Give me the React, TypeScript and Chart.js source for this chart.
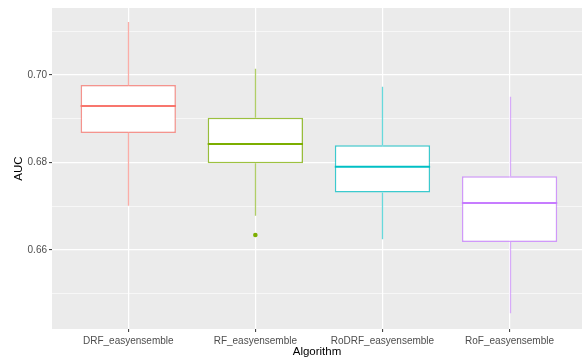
import React, { useEffect, useRef } from "react";
import { Chart, registerables } from "chart.js";
Chart.register(...registerables);

const categories = ["DRF_easyensemble", "RF_easyensemble", "RoDRF_easyensemble", "RoF_easyensemble"];
const whiskerLow = [0.6701, 0.6678, 0.6624, 0.6455];
const q1 = [0.6867, 0.6798, 0.6731, 0.6618];
const median = [0.6929, 0.6842, 0.679, 0.6707];
const q3 = [0.6977, 0.6902, 0.6839, 0.6768];
const whiskerHigh = [0.7121, 0.7014, 0.6973, 0.695];
const outlierCategory = [2];
const outlierValue = [0.6634];
const yTicks = [0.65, 0.66, 0.67, 0.68, 0.69, 0.7, 0.71];
const colors = ["#F8766D", "#7CAE00", "#00BFC4", "#C77CFF"];

const FONT = "'Liberation Sans', Arial, sans-serif";

function alpha(hex: string, a: number) {
  const r = parseInt(hex.slice(1, 3), 16);
  const g = parseInt(hex.slice(3, 5), 16);
  const b = parseInt(hex.slice(5, 7), 16);
  return `rgba(${r},${g},${b},${a})`;
}

const isMajor = (v: number) => Math.round(v * 100) % 2 === 0;

const boxPlugin = {
  id: "boxExtras",
  beforeDraw(chart: any) {
    const { ctx, chartArea } = chart;
    ctx.save();
    ctx.fillStyle = "#EBEBEB";
    ctx.fillRect(chartArea.left, chartArea.top, chartArea.right - chartArea.left, chartArea.bottom - chartArea.top);
    ctx.restore();
  },
  beforeDatasetsDraw(chart: any) {
    const { ctx } = chart;
    const xs = chart.scales.x;
    const ys = chart.scales.y;
    ctx.save();
    ctx.lineWidth = 1.3;
    categories.forEach((_, i) => {
      const x = Math.round(xs.getPixelForValue(i + 1)) + 0.5;
      ctx.strokeStyle = alpha(colors[i], 0.6);
      ctx.beginPath();
      ctx.moveTo(x, ys.getPixelForValue(whiskerHigh[i]));
      ctx.lineTo(x, ys.getPixelForValue(q3[i]));
      ctx.moveTo(x, ys.getPixelForValue(q1[i]));
      ctx.lineTo(x, ys.getPixelForValue(whiskerLow[i]));
      ctx.stroke();
    });
    ctx.restore();
  },
  afterDatasetsDraw(chart: any) {
    const { ctx } = chart;
    const xs = chart.scales.x;
    const ys = chart.scales.y;
    const meta = chart.getDatasetMeta(0);
    ctx.save();
    ctx.lineWidth = 2;
    categories.forEach((_, i) => {
      const el: any = meta.data[i];
      const half = el.width / 2;
      const x = el.x;
      const y = ys.getPixelForValue(median[i]);
      ctx.strokeStyle = colors[i];
      ctx.beginPath();
      ctx.moveTo(x - half, y);
      ctx.lineTo(x + half, y);
      ctx.stroke();
    });
    ctx.restore();
  },
};

export default function App() {
  const ref = useRef<HTMLCanvasElement>(null);
  useEffect(() => {
    document.body.style.margin = "0";
    const chart = new Chart(ref.current!, {
      type: "bar",
      data: {
        datasets: [
          {
            type: "bar",
            data: categories.map((_, i) => ({ x: i + 1, y: [q1[i], q3[i]] })) as any,
            backgroundColor: "#FFFFFF",
            borderColor: colors.map((c) => alpha(c, 0.75)),
            borderWidth: 1.5,
            borderSkipped: false,
            barPercentage: 0.75,
            categoryPercentage: 1,
          },
          {
            type: "scatter",
            data: outlierCategory.map((c, k) => ({ x: c, y: outlierValue[k] })),
            backgroundColor: outlierCategory.map((c) => colors[c - 1]),
            borderColor: outlierCategory.map((c) => colors[c - 1]),
            pointRadius: 2.3,
            borderWidth: 0,
          } as any,
        ],
      },
      options: {
        responsive: false,
        animation: false,
        layout: { padding: { top: 8, left: 0, right: 0, bottom: 0 } },
        plugins: { legend: { display: false }, tooltip: { enabled: false } },
        scales: {
          x: {
            type: "linear",
            offset: false,
            min: 0.4,
            max: 4.57,
            afterFit: (s: any) => {
              s.height = 29;
            },
            afterBuildTicks: (s: any) => {
              s.ticks = categories.map((_, i) => ({ value: i + 1 }));
            },
            border: { display: false },
            grid: { offset: false, color: "#FFFFFF", lineWidth: 1.2, tickLength: 3, tickColor: "#333333", tickWidth: 1 },
            ticks: {
              autoSkip: false,
              maxRotation: 0,
              padding: 3,
              color: "#4D4D4D",
              font: { family: FONT, size: 10 },
              callback: (v: any) => categories[Math.round(Number(v)) - 1] ?? "",
            },
            title: {
              display: true,
              text: "Algorithm",
              color: "#000000",
              font: { family: FONT, size: 11.5, lineHeight: 1 },
              padding: { top: 0, bottom: 0 },
            },
          },
          y: {
            type: "linear",
            min: 0.6419,
            max: 0.7153,
            afterFit: (s: any) => {
              s.width = 52;
            },
            afterBuildTicks: (s: any) => {
              s.ticks = yTicks.map((v) => ({ value: v }));
            },
            border: { display: false },
            grid: {
              color: "#FFFFFF",
              lineWidth: (c: any) => (isMajor(c.tick.value) ? 1.2 : 0.6),
              tickLength: 3,
              tickColor: (c: any) => (isMajor(c.tick.value) ? "#333333" : "rgba(0,0,0,0)"),
              tickWidth: 1,
            },
            ticks: {
              autoSkip: false,
              padding: 2,
              color: "#4D4D4D",
              font: { family: FONT, size: 10 },
              callback: (v: any) => (isMajor(Number(v)) ? Number(v).toFixed(2) : ""),
            },
            title: {
              display: true,
              text: "AUC",
              color: "#000000",
              font: { family: FONT, size: 11.5, lineHeight: 1.2 },
              padding: { top: 12, bottom: 0 },
            },
          },
        },
      },
      plugins: [boxPlugin],
    });
    return () => chart.destroy();
  }, []);
  return (
    <div style={{ position: "absolute", left: 0, top: 0, width: 586, height: 358 }}>
      <canvas ref={ref} width={586} height={358} style={{ width: 586, height: 358 }} />
    </div>
  );
}
